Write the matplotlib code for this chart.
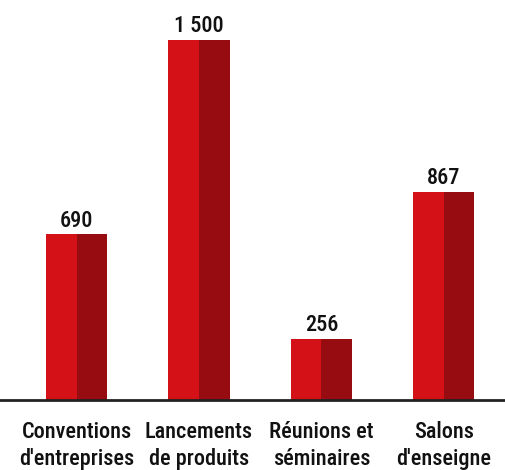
import matplotlib
matplotlib.use("Agg")
import matplotlib.pyplot as plt

categories = ["Conventions\nd'entreprises", "Lancements\nde produits", "Réunions et\nséminaires", "Salons\nd'enseigne"]
values = [690, 1500, 256, 867]
value_labels = ["690", "1 500", "256", "867"]

font = "Roboto Condensed"

fig = plt.figure(figsize=(5.05, 4.70), dpi=100)
ax = fig.add_axes([0, 70 / 470, 1, 400 / 470])

x = list(range(len(values)))
ax.bar([i - 0.125 for i in x], values, width=0.25, color="#d41116")
ax.bar([i + 0.125 for i in x], values, width=0.25, color="#960c10")

for i, v in enumerate(values):
    ax.annotate(value_labels[i], (i, v), xytext=(0, 5.5), textcoords="offset points",
                ha="center", va="baseline", fontsize=16, family=font,
                fontweight=500, color="#111111")

ax.set_xlim(-0.625, 3.5)
ax.set_ylim(0, 1667)
ax.set_xticks(x)
ax.set_xticklabels(categories, fontsize=16, family=font, fontweight=500,
                   color="#111111", linespacing=1.3)
ax.tick_params(axis="x", length=0, pad=15)
ax.set_yticks([])
for s in ["top", "left", "right"]:
    ax.spines[s].set_visible(False)
ax.spines["bottom"].set_linewidth(2)
ax.spines["bottom"].set_color("#222222")

fig.savefig("out.png", dpi=100)
